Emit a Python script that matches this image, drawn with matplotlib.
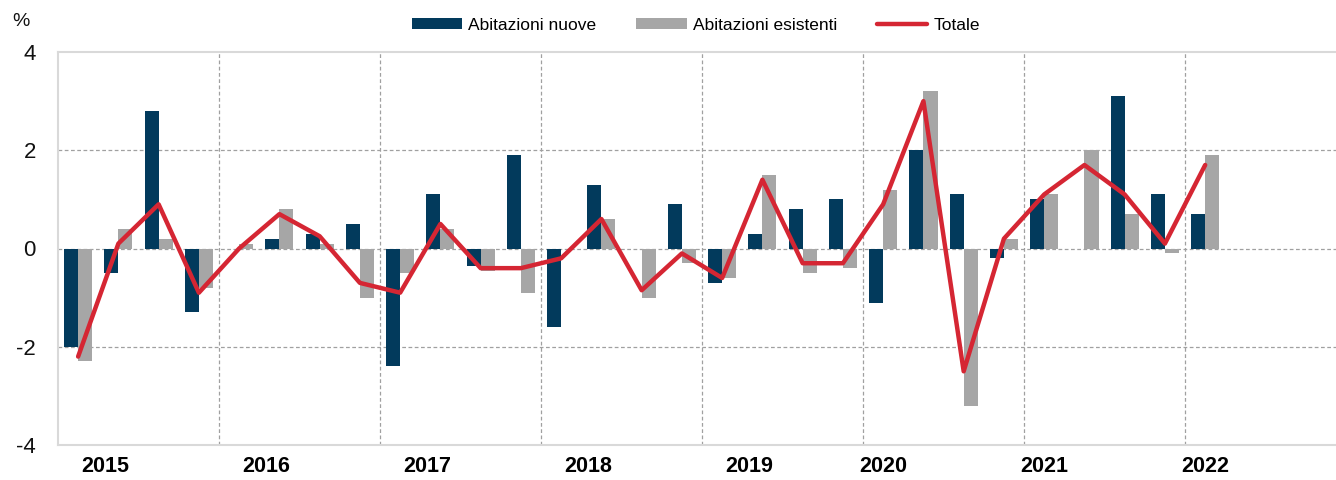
import numpy as np
import matplotlib
matplotlib.use("Agg")
import matplotlib.pyplot as plt

# Variazioni trimestrali dei prezzi delle abitazioni (%), 2015 T1 - 2022 T1
trimestri = ["2015T1", "2015T2", "2015T3", "2015T4",
             "2016T1", "2016T2", "2016T3", "2016T4",
             "2017T1", "2017T2", "2017T3", "2017T4",
             "2018T1", "2018T2", "2018T3", "2018T4",
             "2019T1", "2019T2", "2019T3", "2019T4",
             "2020T1", "2020T2", "2020T3", "2020T4",
             "2021T1", "2021T2", "2021T3", "2021T4",
             "2022T1"]
nuove = [-2.0, -0.5, 2.8, -1.3,
         0.0, 0.2, 0.3, 0.5,
         -2.4, 1.1, -0.35, 1.9,
         -1.6, 1.3, 0.0, 0.9,
         -0.7, 0.3, 0.8, 1.0,
         -1.1, 2.0, 1.1, -0.2,
         1.0, 0.0, 3.1, 1.1,
         0.7]
esistenti = [-2.3, 0.4, 0.2, -0.8,
             0.1, 0.8, 0.1, -1.0,
             -0.5, 0.4, -0.45, -0.9,
             0.0, 0.6, -1.0, -0.3,
             -0.6, 1.5, -0.5, -0.4,
             1.2, 3.2, -3.2, 0.2,
             1.1, 2.0, 0.7, -0.1,
             1.9]
totale = [-2.2, 0.1, 0.9, -0.9,
          0.0, 0.7, 0.25, -0.7,
          -0.9, 0.5, -0.4, -0.4,
          -0.2, 0.6, -0.85, -0.1,
          -0.6, 1.4, -0.3, -0.3,
          0.9, 3.0, -2.5, 0.2,
          1.1, 1.7, 1.1, 0.1,
          1.7]
anni = ["2015", "2016", "2017", "2018", "2019", "2020", "2021", "2022"]

plt.rcParams['font.family'] = ["Liberation Sans", "DejaVu Sans"]
plt.rcParams['axes.unicode_minus'] = False

blu = "#023a5c"
grigio = "#a6a6a6"
rosso = "#d52633"
bordo = "#d9d9d9"

x = np.arange(len(trimestri))
w = 0.35

fig = plt.figure(figsize=(13.36, 4.8), dpi=100)
ax = fig.add_axes([58/1336, 35/480, 1 - 58/1336, 393/480])

b1 = ax.bar(x - w/2, nuove, w, color=blu, label="Abitazioni nuove", zorder=3)
b2 = ax.bar(x + w/2, esistenti, w, color=grigio, label="Abitazioni esistenti", zorder=3)
l1, = ax.plot(x, totale, color=rosso, lw=3.2, label="Totale", zorder=4,
              solid_capstyle='round', solid_joinstyle='round')

ax.set_xlim(-0.5, 31.25)
ax.set_ylim(-4, 4)
ax.set_yticks([-4, -2, 0, 2, 4])
ax.tick_params(axis='y', length=0, pad=16, labelsize=16, labelcolor="#111111")

# etichette degli anni
pos_anni = [0.67, 4.67, 8.67, 12.67, 16.67, 20, 24, 28]
ax.set_xticks(pos_anni)
ax.set_xticklabels(anni, fontsize=15.5, fontweight='bold')
ax.tick_params(axis='x', length=0, pad=8)

# griglia tratteggiata
for yy in [-2, 0, 2]:
    ax.axhline(yy, color="#a0a0a0", lw=0.9, ls=(0, (3, 2)), zorder=1)
for k in range(7):
    ax.axvline(3.5 + 4*k, color="#a0a0a0", lw=0.9, ls=(0, (3, 2)), zorder=1)

for s in ["left", "top", "bottom"]:
    ax.spines[s].set_color(bordo)
    ax.spines[s].set_linewidth(1.5)
ax.spines["right"].set_visible(False)

fig.text(12/1336, 1 - 21/480, "%", fontsize=14, va='center', ha='left', color="#111111")

fig.legend([b1, b2, l1], ["Abitazioni nuove", "Abitazioni esistenti", "Totale"],
           loc='center', bbox_to_anchor=(696/1336, 1 - 25/480), ncol=3, frameon=False,
           fontsize=12.5, handlelength=2.9, handleheight=0.55, handletextpad=0.35,
           columnspacing=2.3)

fig.savefig("out.png", dpi=100)
